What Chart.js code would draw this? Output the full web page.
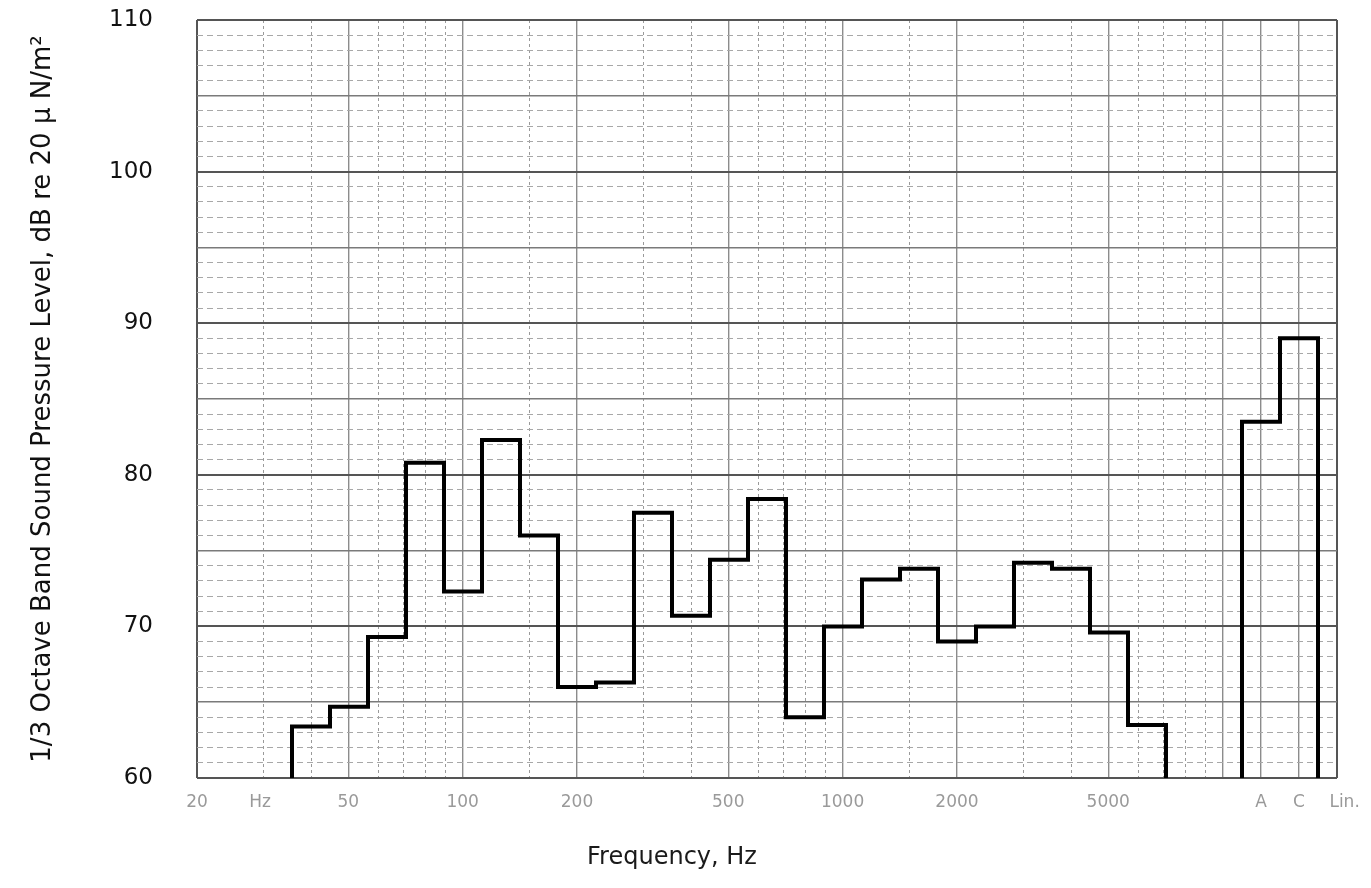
<!DOCTYPE html>
<html>
<head>
<meta charset="utf-8">
<script src="https://cdn.jsdelivr.net/npm/chart.js@4.4.1/dist/chart.umd.min.js"></script>
<style>
  html, body { margin: 0; padding: 0; background: #fff; }
  #wrap { width: 1371px; height: 888px; }
</style>
</head>
<body>
<div id="wrap"><canvas id="spectrum"></canvas></div>
<script>
// 1/3 octave band centre frequencies (Hz) and the levels (dB)
const bandFreqs = [40, 50, 63, 80, 100, 125, 160, 200, 250, 315, 400, 500, 630, 800, 1000, 1250, 1600, 2000, 2500, 3150, 4000, 5000, 6300];
const bandLevels = [63.4, 64.7, 69.3, 80.8, 72.3, 82.3, 76.0, 66.0, 66.3, 77.5, 70.7, 74.4, 78.4, 64.0, 70.0, 73.1, 73.8, 69.0, 70.0, 74.2, 73.8, 69.6, 63.5];

// overall weighted levels (columns right of the 10 kHz line)
const weightNames = ['A', 'C', 'Lin.'];
const weightLevels = [83.5, 89.0];

// frequency tick labels
const freqLabels = [20, 50, 100, 200, 500, 1000, 2000, 5000];

// log chart paper lines
const paperFreqs = [20, 30, 40, 50, 60, 70, 80, 90, 100, 150, 200, 300, 400, 500, 600, 700, 800, 900,
                    1000, 1500, 2000, 3000, 4000, 5000, 6000, 7000, 8000, 9000, 10000];
const paperMajor = [20, 50, 100, 200, 500, 1000, 2000, 5000, 10000];

const yMin = 60, yMax = 110;

// position in 1/3 octave steps above 20 Hz
const bandPos = f => 10 * Math.log10(f / 20);
const lastPos = 30;
const firstWeightCol = 28;

// stepped outline of the band spectrum
const spectrum = [{ x: Math.round(bandPos(bandFreqs[0])) - 0.5, y: yMin }];
bandFreqs.forEach((f, i) => spectrum.push({ x: Math.round(bandPos(f)) - 0.5, y: bandLevels[i] }));
spectrum.push({ x: Math.round(bandPos(bandFreqs[bandFreqs.length - 1])) + 0.5, y: yMin });

const weighted = [{ x: firstWeightCol - 0.5, y: yMin }];
weightLevels.forEach((v, i) => weighted.push({ x: firstWeightCol + i - 0.5, y: v }));
weighted.push({ x: firstWeightCol + weightLevels.length - 0.5, y: yMin });

// x label ticks
const xTickPos = freqLabels.map(bandPos);
const xTickText = freqLabels.map(String);
xTickPos.splice(1, 0, 1.66);
xTickText.splice(1, 0, 'Hz');
weightNames.forEach((n, i) => {
  xTickPos.push(firstWeightCol + i + (i === 2 ? 0.2 : 0));
  xTickText.push(n);
});

const majorPos = paperMajor.map(bandPos).concat([firstWeightCol, firstWeightCol + 1, lastPos]);
const minorPos = paperFreqs.filter(f => !paperMajor.includes(f)).map(bandPos);

const yMinorTicks = [];
for (let v = yMin; v <= yMax; v++) if (v % 5 !== 0) yMinorTicks.push(v);

const xTitlePlugin = {
  id: 'xTitle',
  afterDraw(chart) {
    const { ctx, chartArea } = chart;
    const x = chart.scales.x.getPixelForValue(12.5);
    ctx.save();
    ctx.font = '24px "DejaVu Sans"';
    ctx.fillStyle = '#1a1a1a';
    ctx.textAlign = 'center';
    ctx.textBaseline = 'middle';
    ctx.fillText('Frequency, Hz', x, chartArea.bottom + 80);
    ctx.restore();
  }
};

const hiddenFit = s => { s.height = 0; s.paddingLeft = 0; s.paddingRight = 0; };

new Chart(document.getElementById('spectrum'), {
  type: 'line',
  data: {
    datasets: [
      {
        label: 'Band levels',
        data: spectrum,
        stepped: true,
        borderColor: '#000',
        borderWidth: 4,
        pointRadius: 0,
        fill: false,
        borderJoinStyle: 'miter',
        xAxisID: 'x',
        yAxisID: 'y'
      },
      {
        label: 'Weighted',
        data: weighted,
        stepped: true,
        borderColor: '#000',
        borderWidth: 4,
        pointRadius: 0,
        fill: false,
        borderJoinStyle: 'miter',
        xAxisID: 'x',
        yAxisID: 'y'
      }
    ]
  },
  options: {
    responsive: true,
    maintainAspectRatio: false,
    animation: false,
    devicePixelRatio: 1,
    layout: { padding: { left: 0, top: 20, right: 34, bottom: 0 } },
    plugins: { legend: { display: false }, tooltip: { enabled: false } },
    scales: {
      x: {
        type: 'linear', min: 0, max: lastPos, position: 'bottom',
        afterBuildTicks: s => { s.ticks = majorPos.map(v => ({ value: v })); },
        afterFit: hiddenFit,
        ticks: { display: false },
        border: { display: false },
        grid: {
          drawTicks: false,
          color: c => (c.tick && (c.tick.value === 0 || c.tick.value === lastPos)) ? '#555' : '#8c8c8c',
          lineWidth: c => (c.tick && (c.tick.value === 0 || c.tick.value === lastPos)) ? 2 : 1.4
        }
      },
      xMinor: {
        type: 'linear', min: 0, max: lastPos, position: 'bottom',
        afterBuildTicks: s => { s.ticks = minorPos.map(v => ({ value: v })); },
        afterFit: hiddenFit,
        ticks: { display: false },
        border: { display: false, dash: [3, 3] },
        grid: { drawTicks: false, color: '#9a9a9a', lineWidth: 1 }
      },
      xl: {
        type: 'linear', min: 0, max: lastPos, position: 'bottom',
        afterBuildTicks: s => { s.ticks = xTickPos.map(v => ({ value: v })); },
        afterFit: s => { s.height = 110; s.paddingLeft = 0; s.paddingRight = 0; },
        border: { display: false },
        grid: { display: false, drawTicks: false },
        ticks: {
          autoSkip: false, maxRotation: 0, padding: 14,
          color: '#9a9a9a',
          font: { family: '"DejaVu Sans"', size: 17 },
          callback: (v, i) => xTickText[i]
        }
      },
      y: {
        type: 'linear', min: yMin, max: yMax, position: 'left',
        afterFit: s => { s.width = 197; s.paddingTop = 14; s.paddingBottom = 14; },
        border: { display: false },
        ticks: {
          stepSize: 5, padding: 44,
          color: '#111',
          font: { family: '"DejaVu Sans"', size: 23 },
          callback: v => (v % 10 === 0 ? v : '')
        },
        grid: {
          drawTicks: false,
          color: c => (c.tick && c.tick.value % 10 === 0) ? '#555' : '#7a7a7a',
          lineWidth: c => (c.tick && c.tick.value % 10 === 0) ? 2 : 1.5
        },
        title: {
          display: true,
          text: '1/3 Octave Band Sound Pressure Level, dB re 20 \u00b5 N/m\u00b2',
          color: '#111',
          font: { family: '"DejaVu Sans"', size: 26 },
          padding: { top: 28, bottom: 0 }
        }
      },
      yMinor: {
        type: 'linear', min: yMin, max: yMax, position: 'left',
        afterBuildTicks: s => { s.ticks = yMinorTicks.map(v => ({ value: v })); },
        afterFit: s => { s.width = 0; s.paddingTop = 0; s.paddingBottom = 0; },
        ticks: { display: false },
        border: { display: false, dash: [6, 4] },
        grid: { drawTicks: false, color: '#a8a8a8', lineWidth: 1 }
      }
    }
  },
  plugins: [xTitlePlugin]
});
</script>
</body>
</html>
